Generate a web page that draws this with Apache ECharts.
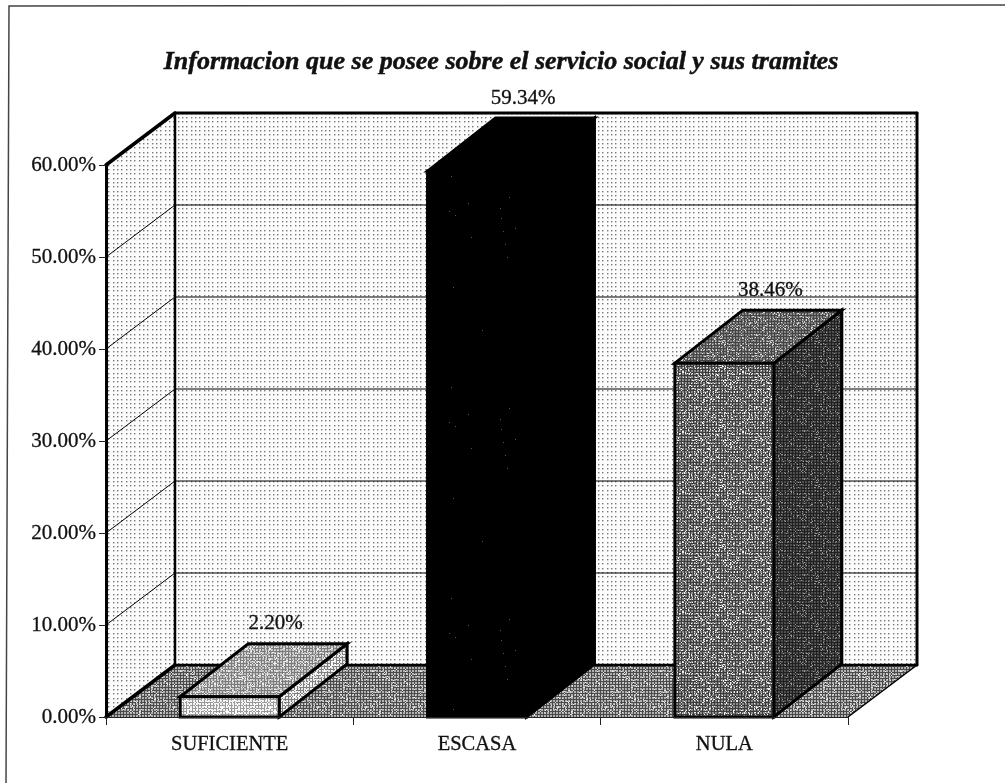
<!DOCTYPE html>
<html>
<head>
<meta charset="utf-8">
<style>
  html, body { margin: 0; padding: 0; background: #fff; }
  #main { width: 1005px; height: 783px; }
</style>
<script src="https://cdn.jsdelivr.net/npm/echarts@6/dist/echarts.min.js"></script>
</head>
<body>
<div id="main"></div>
<script>
const categories = ['SUFICIENTE', 'ESCASA', 'NULA'];
const values = [2.20, 59.34, 38.46];
const yTicks = [0, 10, 20, 30, 40, 50, 60];

const serif = '"Liberation Serif", "Times New Roman", serif';
const wallDepth = [69, -52];
const barDepth = [68, -53];

// small repeating tiles that imitate the scanned halftone
function tile(size, bg, fn) {
  const c = document.createElement('canvas');
  c.width = c.height = size;
  const ctx = c.getContext('2d');
  ctx.fillStyle = bg;
  ctx.fillRect(0, 0, size, size);
  fn(ctx, size);
  return { image: c, repeat: 'repeat' };
}
function hash(x, y) {
  const s = Math.sin(x * 12.9898 + y * 78.233) * 43758.5453;
  return s - Math.floor(s);
}
function mesh(dark, light, amount) {
  return function (ctx, size) {
    for (let y = 0; y < size; y++) {
      for (let x = 0; x < size; x++) {
        const onGrid = x % 3 === 0 || y % 3 === 0;
        const h = hash(x, y);
        if (h < amount) ctx.fillStyle = light;
        else if (onGrid) ctx.fillStyle = dark;
        else continue;
        ctx.fillRect(x, y, 1, 1);
      }
    }
  };
}

const wallFill = tile(13, '#fcfcfc', function (ctx) {
  ctx.fillStyle = '#777';
  [0, 4, 9].forEach(function (y) {
    [0, 4, 9].forEach(function (x) {
      ctx.fillRect(x, y, 1.4, 1.4);
    });
  });
});
const floorFill = tile(48, '#b0b0b0', mesh('#4a4a4a', '#e4e4e4', 0.1));
const blackFill = tile(211, '#000', function (ctx, size) {
  ctx.fillStyle = '#555';
  for (let y = 0; y < size; y++) {
    for (let x = 0; x < size; x++) {
      if (hash(x, y) < 0.0008) ctx.fillRect(x, y, 1, 1);
    }
  }
});
const barFills = [
  {
    front: tile(48, '#f2f2f2', mesh('#9a9a9a', '#ffffff', 0.2)),
    top: tile(48, '#c4c4c4', mesh('#7c7c7c', '#eeeeee', 0.16)),
    side: tile(48, '#e6e6e6', mesh('#808080', '#ffffff', 0.2))
  },
  { front: blackFill, top: '#000', side: '#000' },
  {
    front: tile(60, '#8c8c8c', mesh('#3c3c3c', '#f0f0f0', 0.14)),
    top: tile(48, '#828282', mesh('#444444', '#d6d6d6', 0.12)),
    side: tile(48, '#4e4e4e', mesh('#202020', '#969696', 0.08))
  }
];

function poly(points, fill, stroke, lineWidth) {
  return {
    type: 'polygon',
    shape: { points: points },
    style: { fill: fill, stroke: stroke || null, lineWidth: lineWidth || 0, lineJoin: 'miter' }
  };
}
function line(x1, y1, x2, y2, width) {
  return {
    type: 'line',
    shape: { x1: x1, y1: y1, x2: x2, y2: y2 },
    style: { stroke: '#000', lineWidth: width, lineCap: 'round' }
  };
}

function renderWalls(params, api) {
  const left = params.coordSys.x;
  const right = left + params.coordSys.width;
  const dx = wallDepth[0];
  const dy = wallDepth[1];
  const y0 = api.coord([0, 0])[1];
  const yMax = api.coord([0, yTicks[yTicks.length - 1]])[1];
  const children = [
    poly([[left + dx, yMax + dy], [right + dx, yMax + dy], [right + dx, y0 + dy], [left + dx, y0 + dy]], wallFill),
    poly([[left, yMax], [left + dx, yMax + dy], [left + dx, y0 + dy], [left, y0]], wallFill),
    poly([[left, y0], [left + dx, y0 + dy], [right + dx, y0 + dy], [right, y0]], floorFill)
  ];
  yTicks.slice(1, -1).forEach(function (t) {
    const y = api.coord([0, t])[1];
    children.push(line(left, y, left + dx, y + dy, 1));
    children.push(line(left + dx, y + dy, right + dx, y + dy, 1));
  });
  children.push(
    line(left, yMax, left + dx, yMax + dy, 3.5),
    line(left + dx, yMax + dy, right + dx, yMax + dy, 3),
    line(left + dx, yMax + dy, left + dx, y0 + dy, 2.5),
    line(right + dx, yMax + dy, right + dx, y0 + dy, 3),
    line(left + dx, y0 + dy, right + dx, y0 + dy, 2.5),
    line(left, y0, left + dx, y0 + dy, 3.5),
    line(right, y0, right + dx, y0 + dy, 1.5)
  );
  return { type: 'group', children: children };
}

function renderBar(params, api) {
  const i = api.value(0);
  const v = api.value(1);
  const top = api.coord([i, v]);
  const base = api.coord([i, 0]);
  const w = api.size([1, 0])[0] * 0.4;
  const x0 = top[0] - w / 2;
  const x1 = top[0] + w / 2;
  const dx = barDepth[0];
  const dy = barDepth[1];
  const fills = barFills[i];
  return {
    type: 'group',
    children: [
      poly([[x1, top[1]], [x1 + dx, top[1] + dy], [x1 + dx, base[1] + dy], [x1, base[1]]], fills.side, '#000', 3),
      poly([[x0, top[1]], [x0 + dx, top[1] + dy], [x1 + dx, top[1] + dy], [x1, top[1]]], fills.top, '#000', 3),
      poly([[x0, top[1]], [x1, top[1]], [x1, base[1]], [x0, base[1]]], fills.front, '#000', 3),
      {
        type: 'text',
        style: {
          x: top[0] + dx / 2 + 12,
          y: top[1] + dy - 20,
          text: v.toFixed(2) + '%',
          font: '21px ' + serif,
          fill: '#111',
          stroke: '#111',
          lineWidth: 0.3,
          align: 'center',
          verticalAlign: 'middle'
        }
      }
    ]
  };
}

const chart = echarts.init(document.getElementById('main'), null, { renderer: 'canvas' });
chart.setOption({
  backgroundColor: '#fff',
  animation: false,
  title: {
    text: 'Informacion que se posee sobre el servicio social y sus tramites',
    left: 496,
    top: 44,
    textAlign: 'center',
    textStyle: {
      fontFamily: serif,
      fontStyle: 'italic',
      fontWeight: 'bold',
      fontSize: 26,
      color: '#111',
      textBorderColor: '#111',
      textBorderWidth: 0.5
    }
  },
  graphic: [{
    type: 'polyline',
    shape: { points: [[6, 783], [9, 6], [1005, 5]] },
    style: { stroke: '#444', lineWidth: 1.5, fill: null }
  }],
  grid: { left: 106, right: 157, top: 165, bottom: 66 },
  xAxis: {
    type: 'category',
    data: categories,
    z: 5,
    axisLine: { lineStyle: { color: '#222', width: 1 } },
    axisTick: { show: true, length: 8, lineStyle: { color: '#222' } },
    axisLabel: {
      fontFamily: serif,
      fontSize: 20.5,
      color: '#111',
      margin: 17,
      textBorderColor: '#111',
      textBorderWidth: 0.3
    }
  },
  yAxis: {
    type: 'value',
    min: 0,
    max: 60,
    interval: 10,
    z: 5,
    splitLine: { show: false },
    axisLine: { show: true, lineStyle: { color: '#000', width: 3 } },
    axisTick: { show: true, length: 7, lineStyle: { color: '#222', width: 1 } },
    axisLabel: {
      fontFamily: serif,
      fontSize: 21,
      color: '#111',
      margin: 10,
      textBorderColor: '#111',
      textBorderWidth: 0.3,
      formatter: function (v) { return v.toFixed(2) + '%'; }
    }
  },
  series: [
    {
      type: 'custom',
      silent: true,
      z: 1,
      renderItem: renderWalls,
      encode: { x: 0, y: 1 },
      data: [[0, 0]]
    },
    {
      type: 'custom',
      z: 2,
      renderItem: renderBar,
      encode: { x: 0, y: 1 },
      data: values.map(function (v, i) { return [i, v]; })
    }
  ]
});
</script>
</body>
</html>
